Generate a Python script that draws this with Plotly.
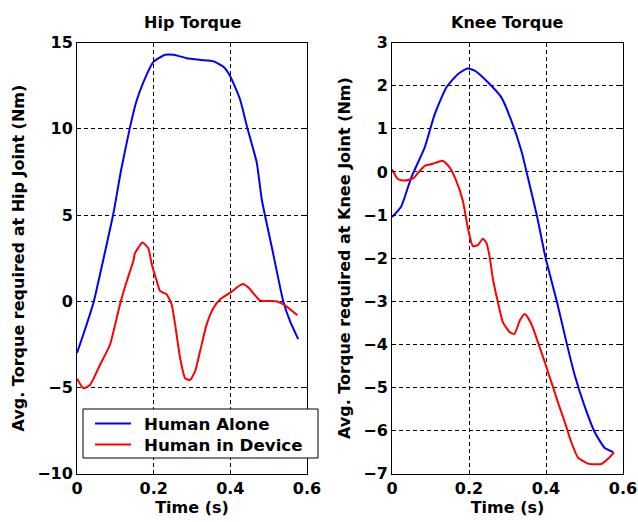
import plotly.graph_objects as go
from plotly.subplots import make_subplots

# Hip torque - Human Alone
hip_alone_t = [0.0, 0.02, 0.044, 0.068, 0.095, 0.115, 0.138, 0.155, 0.173, 0.199, 0.23, 0.252, 0.286,
               0.322, 0.356, 0.382, 0.399, 0.425, 0.443, 0.469, 0.482, 0.51, 0.538, 0.556, 0.577]
hip_alone_v = [-3.0, -1.7, 0.0, 2.35, 5.1, 7.6, 10.07, 11.6, 12.7, 13.87, 14.3, 14.3, 14.1,
               14.0, 13.92, 13.6, 13.08, 11.73, 10.17, 8.03, 5.9, 2.95, 0.0, -1.17, -2.2]

# Hip torque - Human in Device
hip_dev_t = [0.0, 0.017, 0.034, 0.06, 0.086, 0.112, 0.13, 0.147, 0.151, 0.171, 0.186, 0.195, 0.208,
             0.217, 0.234, 0.247, 0.256, 0.269, 0.282, 0.295, 0.308, 0.321, 0.338, 0.356, 0.373,
             0.399, 0.432, 0.448, 0.477, 0.52, 0.54, 0.575]
hip_dev_v = [-4.5, -5.05, -4.86, -3.7, -2.53, -0.2, 1.17, 2.33, 2.78, 3.4, 3.07, 2.14, 1.17,
             0.58, 0.39, -0.19, -1.36, -3.3, -4.47, -4.57, -4.08, -2.92, -1.36, -0.39, 0.1,
             0.48, 0.99, 0.78, 0.05, 0.0, -0.2, -0.82]

# Knee torque - Human Alone
knee_alone_t = [0.0, 0.024, 0.05, 0.085, 0.111, 0.141, 0.171, 0.196, 0.215, 0.249, 0.284, 0.31,
                0.336, 0.353, 0.376, 0.399, 0.428, 0.453, 0.475, 0.5, 0.527, 0.552, 0.574]
knee_alone_v = [-1.05, -0.8, -0.13, 0.57, 1.34, 1.96, 2.27, 2.4, 2.35, 2.08, 1.73, 1.19,
                0.49, -0.13, -1.0, -2.0, -3.0, -3.95, -4.73, -5.43, -6.05, -6.4, -6.5]

# Knee torque - Human in Device
knee_dev_t = [0.0, 0.016, 0.033, 0.055, 0.068, 0.085, 0.106, 0.132, 0.15, 0.167, 0.184, 0.197,
              0.21, 0.223, 0.236, 0.245, 0.254, 0.262, 0.275, 0.288, 0.306, 0.318, 0.332, 0.345,
              0.362, 0.379, 0.397, 0.414, 0.431, 0.449, 0.466, 0.483, 0.509, 0.544, 0.561, 0.577]
knee_dev_v = [0.06, -0.17, -0.2, -0.15, -0.02, 0.14, 0.19, 0.26, 0.1, -0.21, -0.67, -1.3,
              -1.72, -1.7, -1.55, -1.64, -1.99, -2.48, -3.02, -3.49, -3.72, -3.76, -3.45, -3.3,
              -3.53, -3.95, -4.42, -4.88, -5.35, -5.81, -6.28, -6.63, -6.77, -6.78, -6.66, -6.51]

x_ticks = [0, 0.2, 0.4, 0.6]
x_tick_labels = ["0", "0.2", "0.4", "0.6"]
hip_ticks = [-10, -5, 0, 5, 10, 15]
knee_ticks = [-7, -6, -5, -4, -3, -2, -1, 0, 1, 2, 3]
series_names = ["Human Alone", "Human in Device"]

FONT = "DejaVu Sans, sans-serif"
BLUE = "#0000ff"
RED = "#ff0000"
LINE = dict(width=2, shape="spline", smoothing=0.5)

fig = make_subplots(rows=1, cols=2)

fig.add_trace(go.Scatter(x=hip_alone_t, y=hip_alone_v, mode="lines", name=series_names[0],
                         line=dict(color=BLUE, **LINE)), row=1, col=1)
fig.add_trace(go.Scatter(x=hip_dev_t, y=hip_dev_v, mode="lines", name=series_names[1],
                         line=dict(color=RED, **LINE)), row=1, col=1)
fig.add_trace(go.Scatter(x=knee_alone_t, y=knee_alone_v, mode="lines", name=series_names[0],
                         line=dict(color=BLUE, **LINE)), row=1, col=2)
fig.add_trace(go.Scatter(x=knee_dev_t, y=knee_dev_v, mode="lines", name=series_names[1],
                         line=dict(color=RED, **LINE)), row=1, col=2)

W, H = 638, 522
def fx(px):
    return px / W
def fy(py):
    return 1 - py / H

TF = dict(family=FONT, size=16, color="black", weight="bold")
LF = dict(family=FONT, size=16.7, color="black", weight="bold")

axis_common = dict(
    showline=True, linecolor="black", linewidth=1, mirror="ticks",
    ticks="inside", ticklen=4, tickcolor="black",
    showgrid=True, gridcolor="black", gridwidth=1, griddash="4px,3px",
    zeroline=False, automargin=False,
    tickfont=TF,
)

fig.update_xaxes(**axis_common, range=[0, 0.6], tickvals=x_ticks, ticktext=x_tick_labels,
                 title=dict(text="Time (s)", font=TF, standoff=4))
fig.update_yaxes(**axis_common)

# Legend box (drawn in the left panel, overlapping its right edge as in the original)
LEG = dict(x0=83, x1=318, y0=409, y1=458, line_x0=95, line_x1=131, text_x=142, rows=[423.5, 444.5])
shapes = [dict(type="rect", xref="paper", yref="paper",
               x0=fx(LEG["x0"]), x1=fx(LEG["x1"]), y0=fy(LEG["y1"]), y1=fy(LEG["y0"]),
               fillcolor="white", line=dict(color="black", width=1), layer="above")]
annotations = []
for name, color, ry in zip(series_names, [BLUE, RED], LEG["rows"]):
    shapes.append(dict(type="line", xref="paper", yref="paper",
                       x0=fx(LEG["line_x0"]), x1=fx(LEG["line_x1"]), y0=fy(ry), y1=fy(ry),
                       line=dict(color=color, width=2), layer="above"))
    annotations.append(dict(text=name, x=fx(LEG["text_x"]), y=fy(ry), xref="paper", yref="paper",
                            xanchor="left", yanchor="middle", showarrow=False, font=LF))

annotations += [
    dict(text="Hip Torque", x=(fx(77) + fx(307)) / 2, y=fy(22), xref="paper", yref="paper",
         xanchor="center", yanchor="middle", showarrow=False, font=TF),
    dict(text="Knee Torque", x=(fx(392) + fx(623)) / 2, y=fy(22), xref="paper", yref="paper",
         xanchor="center", yanchor="middle", showarrow=False, font=TF),
]

fig.update_layout(
    xaxis=dict(domain=[fx(77), fx(307)]),
    xaxis2=dict(domain=[fx(392), fx(623)]),
    yaxis=dict(domain=[fy(473.5), fy(42.7)], range=[-10, 15], tickvals=hip_ticks,
               title=dict(text="Avg. Torque required at Hip Joint (Nm)", font=TF, standoff=8)),
    yaxis2=dict(domain=[fy(473.5), fy(42.7)], range=[-7, 3], tickvals=knee_ticks,
                title=dict(text="Avg. Torque required at Knee Joint (Nm)", font=TF, standoff=8)),
    width=W, height=H,
    margin=dict(l=0, r=0, t=0, b=0, autoexpand=False),
    paper_bgcolor="white", plot_bgcolor="white",
    showlegend=False,
    shapes=shapes,
    annotations=annotations,
)

fig.write_html("out.html")
